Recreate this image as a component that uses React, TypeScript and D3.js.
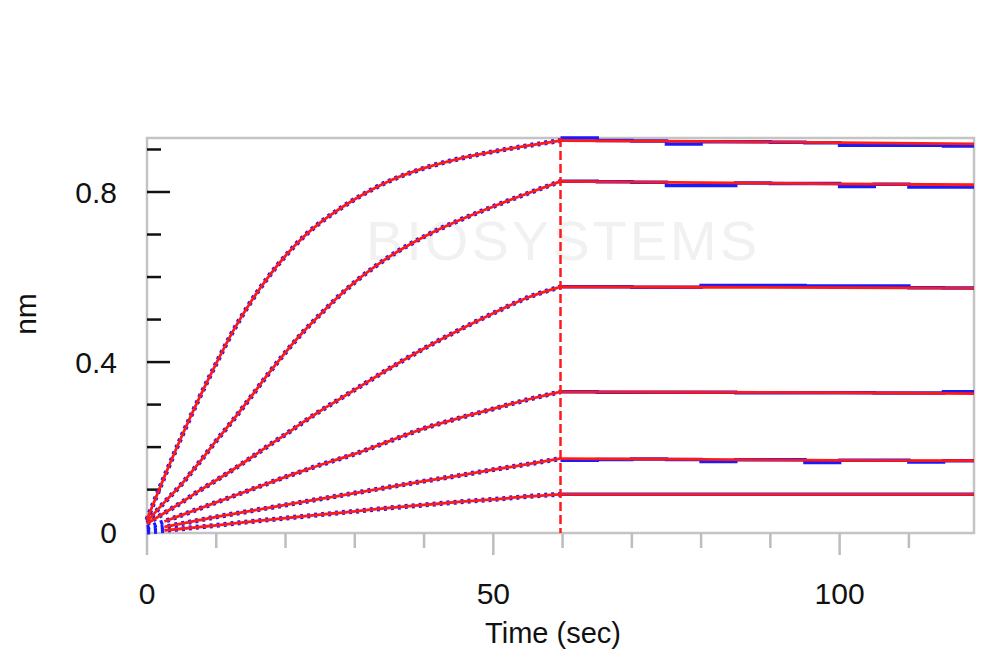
import React from "react";
import * as d3 from "d3";

// ---------- data ----------
const assocTimes = [0, 2.5, 5, 7.5, 10, 12.5, 15, 17.5, 20, 22.5, 25, 27.5, 30, 35, 40, 45, 50, 55, 59.7];
const assoc1 = [0.03, 0.13, 0.225, 0.314, 0.397, 0.475, 0.542, 0.6, 0.65, 0.693, 0.728, 0.757, 0.783, 0.826, 0.856, 0.878, 0.895, 0.909, 0.921];
const assoc2 = [0.025, 0.07, 0.113, 0.163, 0.215, 0.265, 0.318, 0.372, 0.423, 0.47, 0.512, 0.552, 0.588, 0.648, 0.695, 0.733, 0.766, 0.797, 0.825];
const assoc3 = [0.02, 0.045, 0.07, 0.097, 0.122, 0.148, 0.175, 0.203, 0.23, 0.258, 0.285, 0.31, 0.335, 0.385, 0.432, 0.475, 0.515, 0.552, 0.577];
const assoc4 = [0.01, 0.025, 0.04, 0.055, 0.07, 0.085, 0.1, 0.115, 0.13, 0.144, 0.158, 0.171, 0.184, 0.214, 0.244, 0.268, 0.29, 0.312, 0.33];
const assoc5 = [0.005, 0.012, 0.02, 0.028, 0.036, 0.043, 0.05, 0.057, 0.064, 0.071, 0.078, 0.085, 0.092, 0.106, 0.12, 0.133, 0.147, 0.16, 0.173];
const assoc6 = [0.0, 0.004, 0.008, 0.012, 0.016, 0.0205, 0.025, 0.029, 0.033, 0.037, 0.041, 0.045, 0.049, 0.057, 0.064, 0.071, 0.077, 0.084, 0.089];

const dissocTimes = [59.7, 80, 100, 119.4];
const dissoc1 = [0.921, 0.919, 0.916, 0.913];
const dissoc2 = [0.825, 0.822, 0.819, 0.817];
const dissoc3 = [0.577, 0.576, 0.575, 0.574];
const dissoc4 = [0.33, 0.329, 0.328, 0.326];
const dissoc5 = [0.173, 0.171, 0.169, 0.168];
const dissoc6 = [0.089, 0.089, 0.089, 0.089];

const rawDissocTimes = [59.7, 65, 70, 75, 80, 85, 90, 95, 100, 105, 110, 115, 119.4];
const raw1 = [0.927, 0.921, 0.92, 0.913, 0.918, 0.918, 0.917, 0.916, 0.91, 0.91, 0.91, 0.908, 0.908];
const raw2 = [0.825, 0.824, 0.823, 0.815, 0.815, 0.821, 0.82, 0.82, 0.813, 0.818, 0.812, 0.812, 0.812];
const raw3 = [0.577, 0.577, 0.576, 0.576, 0.58, 0.58, 0.58, 0.579, 0.579, 0.579, 0.575, 0.574, 0.574];
const raw4 = [0.33, 0.329, 0.329, 0.329, 0.329, 0.328, 0.328, 0.328, 0.328, 0.327, 0.327, 0.33, 0.33];
const raw5 = [0.169, 0.171, 0.172, 0.171, 0.166, 0.17, 0.17, 0.164, 0.169, 0.169, 0.165, 0.168, 0.168];
const raw6 = [0.089, 0.089, 0.089, 0.089, 0.089, 0.089, 0.089, 0.089, 0.089, 0.089, 0.089, 0.089, 0.089];

const assocSeries = [assoc1, assoc2, assoc3, assoc4, assoc5, assoc6];
const dissocSeries = [dissoc1, dissoc2, dissoc3, dissoc4, dissoc5, dissoc6];
const rawDissocSeries = [raw1, raw2, raw3, raw4, raw5, raw6];

const switchTime = 59.7;
const xTicks = [0, 10, 20, 30, 40, 50, 60, 70, 80, 90, 100, 110];
const xMajor = [0, 50, 100];
const yTicks = [0.1, 0.2, 0.3, 0.4, 0.5, 0.6, 0.7, 0.8, 0.9];
const yMajor = [0, 0.4, 0.8];
const xLabel = "Time (sec)";
const yLabel = "nm";
const watermark = "BIOSYSTEMS";

// ---------- layout ----------
const W = 1000;
const H = 670;
const L = 147;
const R = 974;
const T = 138;
const B = 533;

export default function App() {
  const x = d3.scaleLinear().domain([0, 119.4]).range([L, R]);
  const y = d3.scaleLinear().domain([-0.002, 0.927]).range([B, T]);

  const smooth = d3
    .line<[number, number]>()
    .x((d) => x(d[0]))
    .y((d) => y(d[1]))
    .curve(d3.curveMonotoneX);
  const straight = d3
    .line<[number, number]>()
    .x((d) => x(d[0]))
    .y((d) => y(d[1]));
  const step = d3
    .line<[number, number]>()
    .x((d) => x(d[0]))
    .y((d) => y(d[1]))
    .curve(d3.curveStepAfter);

  const font = "'Liberation Sans', Arial, sans-serif";

  return (
    <svg
      width={W}
      height={H}
      style={{ position: "absolute", left: 0, top: 0, background: "#fff" }}
      fontFamily={font}
    >
      <rect x={0} y={0} width={W} height={H} fill="#fff" />
      {/* watermark */}
      <text x={563} y={260} fontSize={56} fill="#f1f1f1" textAnchor="middle" letterSpacing={3}>
        {watermark}
      </text>

      {/* frame */}
      <rect x={L} y={T} width={R - L} height={B - T} fill="none" stroke="#c4c4c4" strokeWidth={2.5} />

      {/* x ticks */}
      {xTicks.map((t) => (
        <line
          key={"xt" + t}
          x1={x(t)}
          x2={x(t)}
          y1={B}
          y2={B + (xMajor.includes(t) ? 22 : 15)}
          stroke="#bdbdbd"
          strokeWidth={2.5}
        />
      ))}
      {xMajor.map((t) => (
        <text key={"xl" + t} x={x(t)} y={604} fontSize={30} textAnchor="middle" fill="#111">
          {t}
        </text>
      ))}
      <text x={553} y={643} fontSize={29} textAnchor="middle" fill="#111">
        {xLabel}
      </text>

      {/* y ticks */}
      {yTicks.map((t) => (
        <line
          key={"yt" + t}
          x1={L}
          x2={L + (yMajor.includes(t) ? 23 : 14)}
          y1={y(t)}
          y2={y(t)}
          stroke="#111"
          strokeWidth={2.5}
        />
      ))}
      {yMajor.map((t) => (
        <text key={"yl" + t} x={117} y={y(t) + 11} fontSize={30} textAnchor="end" fill="#111">
          {t}
        </text>
      ))}
      <text
        transform={`translate(36,314) rotate(-90)`}
        fontSize={30}
        textAnchor="middle"
        fill="#111"
      >
        {yLabel}
      </text>

      {/* raw data (blue) */}
      {assocSeries.map((s, i) => (
        <path
          key={"ba" + i}
          d={smooth(assocTimes.map((t, j) => [t, s[j]] as [number, number])) || ""}
          fill="none"
          stroke="#1a1aff"
          strokeWidth={5}
          strokeDasharray="3 4"
        />
      ))}
      {rawDissocSeries.map((s, i) => (
        <path
          key={"bd" + i}
          d={step(rawDissocTimes.map((t, j) => [t, s[j]] as [number, number])) || ""}
          fill="none"
          stroke="#1a1aff"
          strokeWidth={3.5}
        />
      ))}

      {/* fits (red) */}
      {assocSeries.map((s, i) => (
        <path
          key={"ra" + i}
          d={smooth(assocTimes.map((t, j) => [t, s[j]] as [number, number]).slice(i > 2 ? 1 : 0)) || ""}
          fill="none"
          stroke="#ff1a1a"
          strokeWidth={2.8}
        />
      ))}
      {dissocSeries.map((s, i) => (
        <path
          key={"rd" + i}
          d={straight(dissocTimes.map((t, j) => [t, s[j]] as [number, number])) || ""}
          fill="none"
          stroke="#ff1a1a"
          strokeWidth={2.8}
        />
      ))}

      {/* association/dissociation switch */}
      <line
        x1={x(switchTime)}
        x2={x(switchTime)}
        y1={T}
        y2={B}
        stroke="#ff1a1a"
        strokeWidth={2.5}
        strokeDasharray="9 4"
      />
    </svg>
  );
}
